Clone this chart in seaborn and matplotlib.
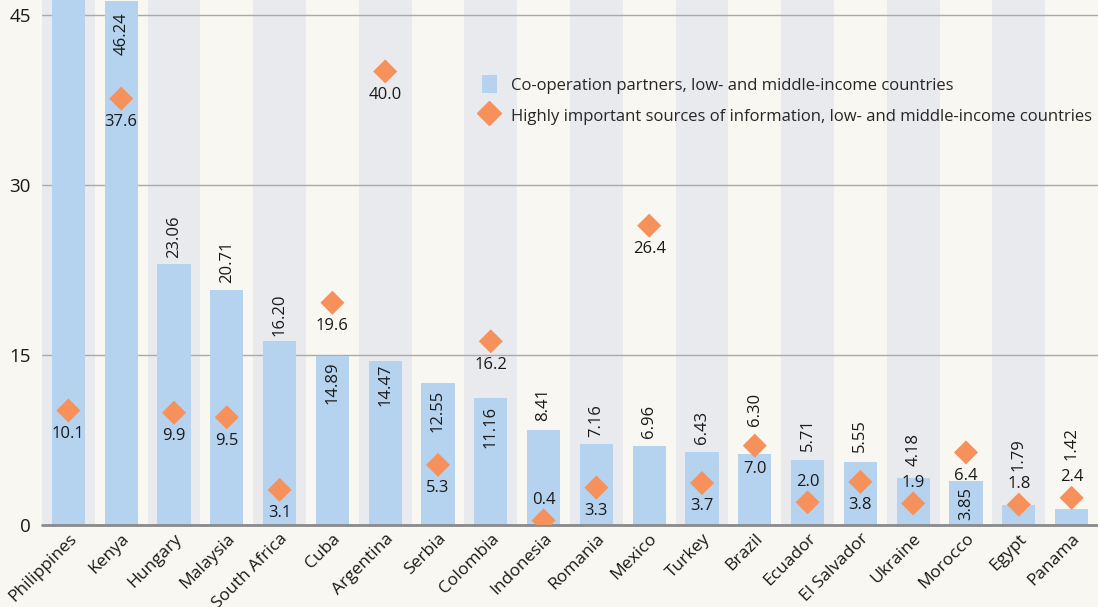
import matplotlib
matplotlib.use("Agg")
import matplotlib.pyplot as plt
from matplotlib.patches import Patch
from matplotlib.lines import Line2D
import pandas as pd
import seaborn as sns

countries = ['Philippines', 'Kenya', 'Hungary', 'Malaysia', 'South Africa', 'Cuba',
             'Argentina', 'Serbia', 'Colombia', 'Indonesia', 'Romania', 'Mexico',
             'Turkey', 'Brazil', 'Ecuador', 'El Salvador', 'Ukraine', 'Morocco',
             'Egypt', 'Panama']
partners = [47.10, 46.24, 23.06, 20.71, 16.20, 14.89, 14.47, 12.55, 11.16, 8.41,
            7.16, 6.96, 6.43, 6.30, 5.71, 5.55, 4.18, 3.85, 1.79, 1.42]
sources = [10.1, 37.6, 9.9, 9.5, 3.1, 19.6, 40.0, 5.3, 16.2, 0.4,
           3.3, 26.4, 3.7, 7.0, 2.0, 3.8, 1.9, 6.4, 1.8, 2.4]
yticks = [0, 15, 30, 45]

# label placement (points): >0 above the bar top, <0 inside the bar
bar_lab_off = [-8, -8, 4, 5, 4, -4, -2, -5, -5, 6, 5, 6, 6, 20, 7, 7, 8, -4, 24, 35]
# diamond label: True -> above the diamond
dia_lab_up = [False] * 9 + [True] + [False] * 4 + [True, False, True, False, True, True]

BG = '#f9f7f1'
STRIPE = '#e9eaed'
BLUE = '#b5d3ef'
ORANGE = '#f7915b'
TXT = '#1a1a1a'

df = pd.DataFrame({'country': countries, 'partners': partners, 'sources': sources})

sns.set_style('white')
plt.rcParams['font.family'] = ['Open Sans', 'DejaVu Sans']

fig, ax = plt.subplots(figsize=(10.98, 6.07), dpi=100)
fig.patch.set_facecolor(BG)
ax.set_facecolor(BG)
fig.subplots_adjust(left=42 / 1098, right=1.0, bottom=1 - 525 / 607, top=1.0)

# alternating background stripes + grid
for i in range(len(countries)):
    if i % 2 == 0:
        ax.axvspan(i - 0.5, i + 0.5, color=STRIPE, lw=0, zorder=0)
for t in yticks[1:]:
    ax.axhline(t, color='#a9a9a9', lw=1, zorder=1)

sns.barplot(data=df, x='country', y='partners', color=BLUE, width=0.63,
            saturation=1, errorbar=None, linewidth=0, edgecolor='none',
            zorder=2, ax=ax)
sns.scatterplot(data=df, x='country', y='sources', marker='D', s=150,
                color=ORANGE, edgecolor='none', linewidth=0, zorder=4, ax=ax)

for i, (p, s) in enumerate(zip(partners, sources)):
    off = bar_lab_off[i]
    ax.annotate(f'{p:.2f}', (i, p), xytext=(0, off), textcoords='offset points',
                rotation=90, ha='center', va='bottom' if off > 0 else 'top',
                fontsize=12, color=TXT, zorder=5)
    if dia_lab_up[i]:
        ax.annotate(f'{s:.1f}', (i, s), xytext=(0, 9), textcoords='offset points',
                    ha='center', va='bottom', fontsize=12, color=TXT, zorder=5)
    else:
        ax.annotate(f'{s:.1f}', (i, s), xytext=(0, -11), textcoords='offset points',
                    ha='center', va='top', fontsize=12, color=TXT, zorder=5)

ax.axhline(0, color='#8a8a8a', lw=2, zorder=3, clip_on=False)
ax.set_xlim(-0.5, len(countries) - 0.5)
ax.set_ylim(0, 46.3)
ax.set_yticks(yticks)
ax.set_yticklabels([str(t) for t in yticks], fontsize=13.5, color=TXT)
ax.tick_params(axis='y', length=0, pad=8)
ax.tick_params(axis='x', length=0, pad=4)
ax.set_xticks(range(len(countries)))
ax.set_xticklabels(countries, rotation=45, ha='right', va='top',
                   rotation_mode='anchor', fontsize=12.5, color=TXT)
ax.set_xlabel('')
ax.set_ylabel('')
for sp in ax.spines.values():
    sp.set_visible(False)

handles = [Patch(facecolor=BLUE, edgecolor='none'),
           Line2D([], [], marker='D', ls='none', color=ORANGE, markersize=12)]
labels = ['Co-operation partners, low- and middle-income countries',
          'Highly important sources of information, low- and middle-income countries']
ax.legend(handles, labels, loc='upper left', bbox_to_anchor=(0.41, 0.87),
          frameon=False, fontsize=12, handlelength=0.9, handleheight=1.3,
          handletextpad=0.85, labelspacing=0.75, borderaxespad=0)

fig.savefig('out.png', dpi=100, facecolor=BG)
